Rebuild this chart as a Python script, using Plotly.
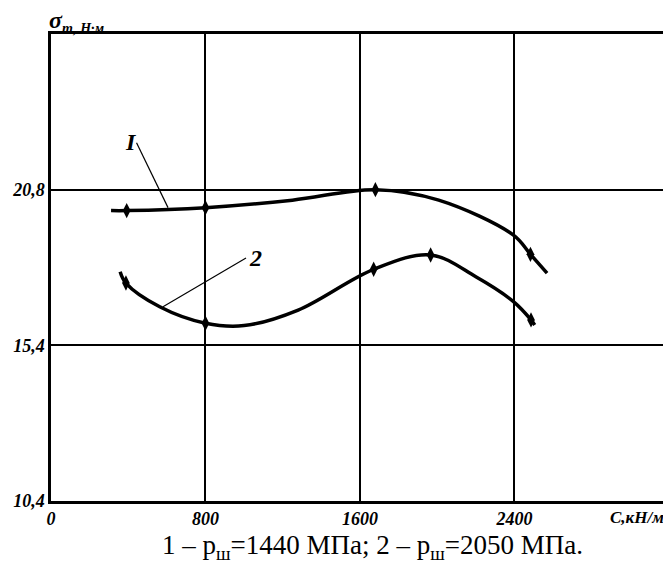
import plotly.graph_objects as go

# Curve 1 (p_ш = 1440 MPa)
c1_x = [311, 392, 800, 1250, 1680, 2008, 2395, 2483, 2569]
c1_y = [20.10, 20.10, 20.20, 20.45, 20.80, 20.45, 19.28, 18.64, 18.01]
m1_x = [392, 800, 1680, 2483]
m1_y = [20.10, 20.20, 20.80, 18.64]

# Curve 2 (p_ш = 2050 MPa)
c2_x = [358, 388, 563, 800, 1000, 1280, 1671, 1966, 2200, 2395, 2486, 2505]
c2_y = [18.06, 17.68, 16.89, 16.34, 16.26, 16.78, 18.14, 18.62, 17.89, 17.06, 16.45, 16.28]
m2_x = [388, 800, 1671, 1966, 2486]
m2_y = [17.68, 16.34, 18.14, 18.62, 16.45]

x_ticks = [0, 800, 1600, 2400]
x_ticktext = ["0", "800", "1600", "2400"]
y_ticks = [10.4, 15.6, 20.8]
y_ticktext = ["10,4", "15,4", "20,8"]

label_font = dict(family="Liberation Serif", size=18, color="black", weight="bold", style="italic")

fig = go.Figure()
for cx, cy, mx, my in [(c1_x, c1_y, m1_x, m1_y), (c2_x, c2_y, m2_x, m2_y)]:
    fig.add_trace(go.Scatter(x=cx, y=cy, mode="lines",
                             line=dict(color="black", width=3.5, shape="spline", smoothing=1.0),
                             showlegend=False, hoverinfo="skip"))
    fig.add_trace(go.Scatter(x=mx, y=my, mode="markers",
                             marker=dict(symbol="diamond-tall", size=11, color="black"),
                             showlegend=False))

# leader lines for curve labels
fig.add_trace(go.Scatter(x=[443, 606], y=[22.37, 20.2], mode="lines",
                         line=dict(color="black", width=1.2), showlegend=False, hoverinfo="skip"))
fig.add_trace(go.Scatter(x=[1010, 580], y=[18.52, 16.89], mode="lines",
                         line=dict(color="black", width=1.2), showlegend=False, hoverinfo="skip"))

fig.add_annotation(x=415, y=22.40, text="<b><i>I</i></b>", showarrow=False,
                   font=dict(family="Liberation Serif", size=24, color="black"))
fig.add_annotation(x=1060, y=18.52, text="<b><i>2</i></b>", showarrow=False,
                   font=dict(family="Liberation Serif", size=24, color="black"))

fig.add_annotation(xref="paper", yref="paper", x=-0.006, y=1.0, xanchor="left", yanchor="bottom",
                   yshift=-4,
                   text="<b><i>σ<sub><span style='font-size:14px'>т, Н·м</span></sub></i></b>",
                   showarrow=False, font=dict(family="Liberation Serif", size=24, color="black"))
fig.add_annotation(xref="paper", yref="paper", x=1.0, y=0, xanchor="right", yanchor="top",
                   yshift=-5, text="<b><i>С,кН/м</i></b>", showarrow=False,
                   font=dict(family="Liberation Serif", size=17, color="black"))
fig.add_annotation(xref="paper", yref="paper", x=0.522, y=0, xanchor="center", yanchor="top",
                   yshift=-27,
                   text="1 – p<sub>ш</sub>=1440 МПа; 2 – p<sub>ш</sub>=2050 МПа.",
                   showarrow=False, font=dict(family="Liberation Serif", size=27, color="black"))

fig.update_xaxes(range=[0, 3185], tickvals=x_ticks, ticktext=x_ticktext,
                 showgrid=True, gridcolor="black", gridwidth=2,
                 showline=True, linecolor="black", linewidth=2.5, mirror=True,
                 zeroline=False, ticks="", tickfont=label_font)
fig.update_yaxes(range=[10.4, 26.0], tickvals=y_ticks, ticktext=y_ticktext,
                 showgrid=True, gridcolor="black", gridwidth=2,
                 showline=True, linecolor="black", linewidth=2.5, mirror=True,
                 zeroline=False, ticks="", tickfont=label_font)

# page body has an 8px margin, so the figure is shrunk by that amount
fig.update_layout(width=663, height=557, margin=dict(l=43, r=2, t=26, b=64),
                  plot_bgcolor="white", paper_bgcolor="white")

fig.write_html("out.html")
